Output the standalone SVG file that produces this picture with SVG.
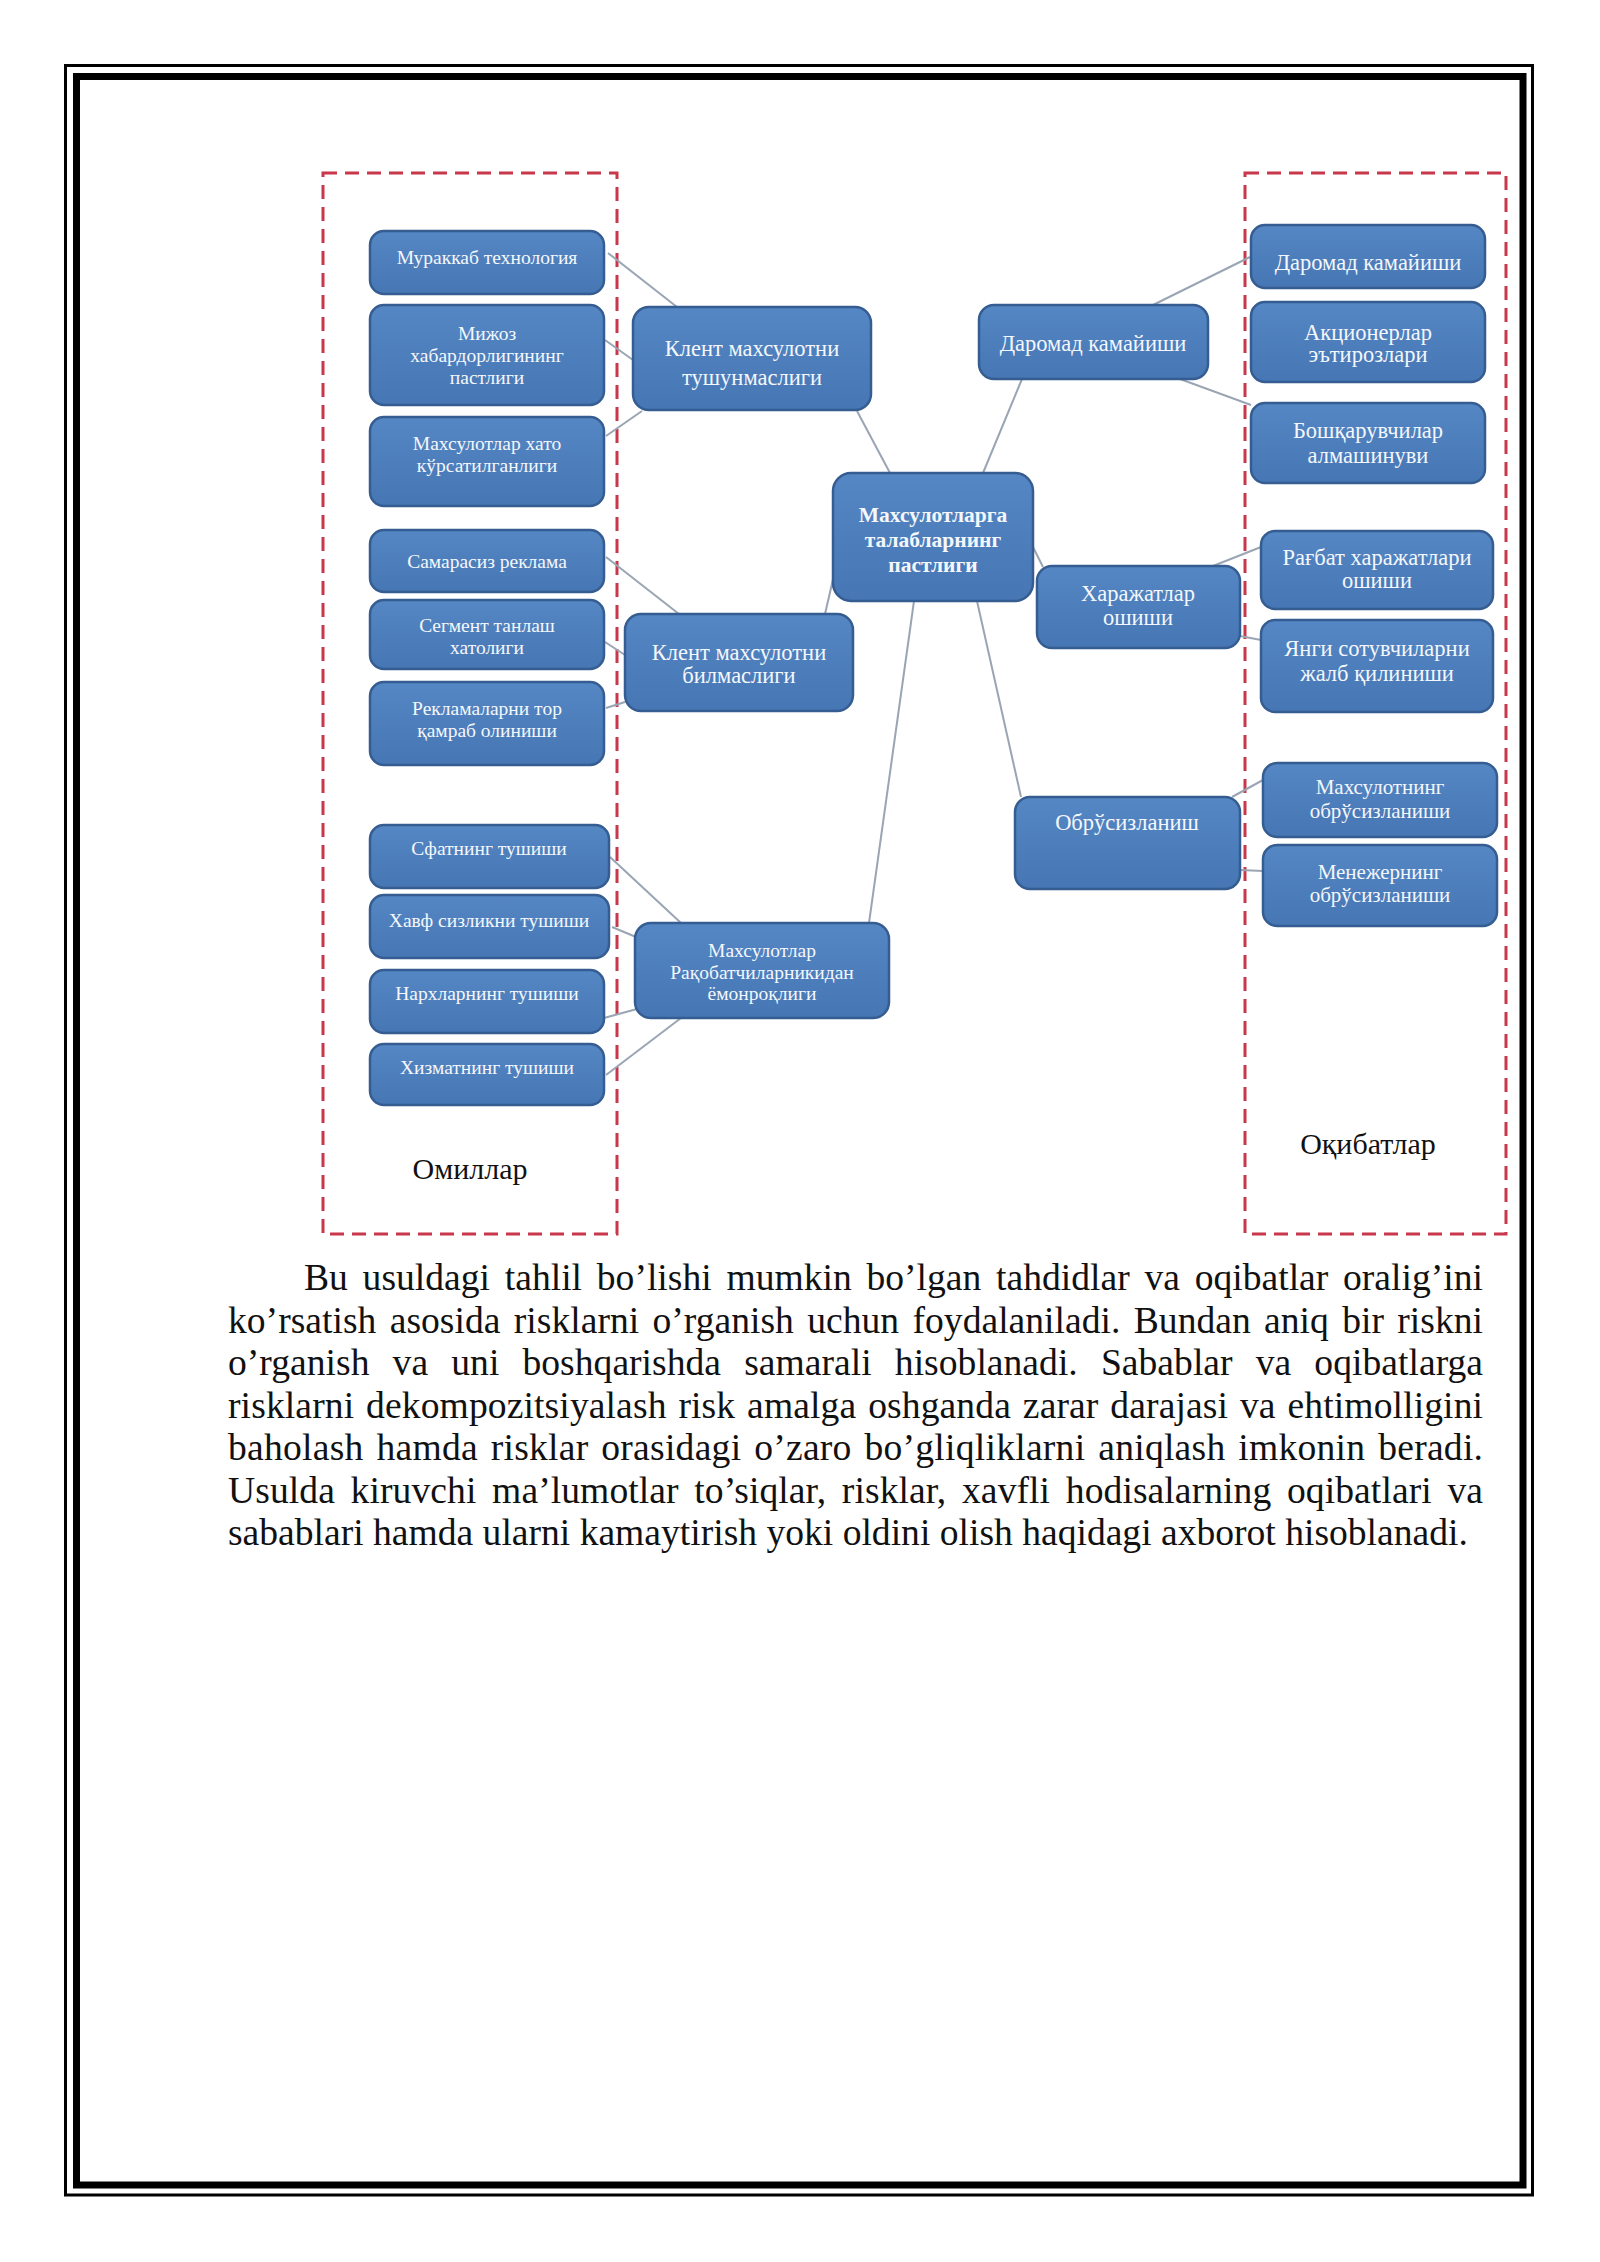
<svg xmlns="http://www.w3.org/2000/svg" width="1600" height="2262" viewBox="0 0 1600 2262">
<defs>
<linearGradient id="nodeFill" x1="0" y1="0" x2="0" y2="1">
<stop offset="0" stop-color="#5587c4"/>
<stop offset="1" stop-color="#4676b4"/>
</linearGradient>
<style>
.node rect{fill:url(#nodeFill);stroke:#355d91;stroke-width:2.5}
.nt{font-family:"Liberation Serif","Times New Roman",serif;fill:#f4f7fb;text-anchor:middle}
.s19{font-size:19.5px}
.s21{font-size:21px}
.s22{font-size:22.5px}
.bold{font-weight:bold;font-size:21.5px}
.conn line{stroke:#9aa5b4;stroke-width:2}
.zone{fill:none;stroke:#c8374a;stroke-width:3;stroke-dasharray:14 8}
.lbl{font-family:"Liberation Serif","Times New Roman",serif;font-size:30px;fill:#111;text-anchor:middle}
.para{font-family:"Liberation Serif","Times New Roman",serif;font-size:37.6px;fill:#111}
</style>
</defs>
<rect x="0" y="0" width="1600" height="2262" fill="#ffffff"/>
<g id="frame" fill="none" stroke="#000">
<rect x="65.5" y="65.5" width="1467" height="2129.5" stroke-width="3"/>
<rect x="76.5" y="76.5" width="1446.5" height="2108.5" stroke-width="7"/>
</g>
<g id="zones">
<rect class="zone" x="323" y="173" width="294" height="1061"/>
<rect class="zone" x="1245" y="173" width="261" height="1061"/>
<text class="lbl" x="470" y="1179">Омиллар</text>
<text class="lbl" x="1368" y="1154">Оқибатлар</text>
</g>
<g id="connectors" class="conn">
<line x1="608" y1="253" x2="677" y2="307"/>
<line x1="605" y1="340" x2="633" y2="360"/>
<line x1="606" y1="436" x2="642" y2="411"/>
<line x1="857" y1="411" x2="890" y2="473"/>
<line x1="983" y1="473" x2="1022" y2="379"/>
<line x1="1153" y1="305" x2="1250" y2="257"/>
<line x1="1180" y1="379" x2="1251" y2="405"/>
<line x1="1033" y1="547" x2="1043" y2="567"/>
<line x1="1213" y1="566" x2="1261" y2="547"/>
<line x1="1240" y1="636" x2="1261" y2="640"/>
<line x1="977" y1="601" x2="1021" y2="797"/>
<line x1="1232" y1="797" x2="1263" y2="780"/>
<line x1="1240" y1="870" x2="1263" y2="871"/>
<line x1="825" y1="614" x2="834" y2="575"/>
<line x1="606" y1="557" x2="679" y2="614"/>
<line x1="605" y1="642" x2="625" y2="655"/>
<line x1="606" y1="708" x2="625" y2="702"/>
<line x1="914" y1="601" x2="869" y2="923"/>
<line x1="610" y1="857" x2="681" y2="923"/>
<line x1="612" y1="927" x2="636" y2="937"/>
<line x1="604" y1="1018" x2="637" y2="1009"/>
<line x1="606" y1="1075" x2="681" y2="1018"/>
</g>
<g id="n-murakkab" class="node"><rect x="370" y="231" width="234" height="63" rx="14"/><text class="nt s19" x="487" y="264">Мураккаб технология</text></g>
<g id="n-mijoz" class="node"><rect x="370" y="305" width="234" height="100" rx="14"/><text class="nt s19" x="487"><tspan x="487" y="340">Мижоз</tspan><tspan x="487" y="362">хабардорлигининг</tspan><tspan x="487" y="384">пастлиги</tspan></text></g>
<g id="n-xato" class="node"><rect x="370" y="417" width="234" height="89" rx="14"/><text class="nt s19"><tspan x="487" y="450">Махсулотлар хато</tspan><tspan x="487" y="472">кўрсатилганлиги</tspan></text></g>
<g id="n-samarasiz" class="node"><rect x="370" y="530" width="234" height="62" rx="14"/><text class="nt s19" x="487" y="568">Самарасиз реклама</text></g>
<g id="n-segment" class="node"><rect x="370" y="600" width="234" height="69" rx="14"/><text class="nt s19"><tspan x="487" y="632">Сегмент танлаш</tspan><tspan x="487" y="654">хатолиги</tspan></text></g>
<g id="n-reklama" class="node"><rect x="370" y="682" width="234" height="83" rx="14"/><text class="nt s19"><tspan x="487" y="715">Рекламаларни тор</tspan><tspan x="487" y="737">қамраб олиниши</tspan></text></g>
<g id="n-sifat" class="node"><rect x="370" y="825" width="239" height="63" rx="14"/><text class="nt s19" x="489" y="855">Сфатнинг тушиши</text></g>
<g id="n-xavf" class="node"><rect x="370" y="895" width="239" height="63" rx="14"/><text class="nt s19" x="489" y="927">Хавф сизликни тушиши</text></g>
<g id="n-narx" class="node"><rect x="370" y="970" width="234" height="63" rx="14"/><text class="nt s19" x="487" y="1000">Нархларнинг тушиши</text></g>
<g id="n-xizmat" class="node"><rect x="370" y="1044" width="234" height="61" rx="14"/><text class="nt s19" x="487" y="1074">Хизматнинг тушиши</text></g>
<g id="n-tushun" class="node"><rect x="633" y="307" width="238" height="103" rx="16"/><text class="nt s22"><tspan x="752" y="356">Клент махсулотни</tspan><tspan x="752" y="385">тушунмаслиги</tspan></text></g>
<g id="n-bilmas" class="node"><rect x="625" y="614" width="228" height="97" rx="16"/><text class="nt s22"><tspan x="739" y="660">Клент махсулотни</tspan><tspan x="739" y="683">билмаслиги</tspan></text></g>
<g id="n-raqobat" class="node"><rect x="635" y="923" width="254" height="95" rx="16"/><text class="nt s19"><tspan x="762" y="957">Махсулотлар</tspan><tspan x="762" y="979">Рақобатчиларникидан</tspan><tspan x="762" y="1000">ёмонроқлиги</tspan></text></g>
<g id="n-center" class="node"><rect x="833" y="473" width="200" height="128" rx="18"/><text class="nt bold"><tspan x="933" y="522">Махсулотларга</tspan><tspan x="933" y="547">талабларнинг</tspan><tspan x="933" y="572">пастлиги</tspan></text></g>
<g id="n-daromad-mid" class="node"><rect x="979" y="305" width="229" height="74" rx="15"/><text class="nt s22" x="1093" y="351">Даромад камайиши</text></g>
<g id="n-daromad-r" class="node"><rect x="1251" y="225" width="234" height="63" rx="14"/><text class="nt s22" x="1368" y="270">Даромад камайиши</text></g>
<g id="n-aksioner" class="node"><rect x="1251" y="302" width="234" height="80" rx="14"/><text class="nt s22"><tspan x="1368" y="340">Акционерлар</tspan><tspan x="1368" y="362">эътирозлари</tspan></text></g>
<g id="n-boshqaruv" class="node"><rect x="1251" y="403" width="234" height="80" rx="14"/><text class="nt s22"><tspan x="1368" y="438">Бошқарувчилар</tspan><tspan x="1368" y="463">алмашинуви</tspan></text></g>
<g id="n-xarajat" class="node"><rect x="1037" y="566" width="203" height="82" rx="15"/><text class="nt s22"><tspan x="1138" y="601">Харажатлар</tspan><tspan x="1138" y="625">ошиши</tspan></text></g>
<g id="n-ragbat" class="node"><rect x="1261" y="531" width="232" height="78" rx="14"/><text class="nt s22"><tspan x="1377" y="565">Рағбат харажатлари</tspan><tspan x="1377" y="588">ошиши</tspan></text></g>
<g id="n-yangi" class="node"><rect x="1261" y="620" width="232" height="92" rx="14"/><text class="nt s22"><tspan x="1377" y="656">Янги сотувчиларни</tspan><tspan x="1377" y="681">жалб қилиниши</tspan></text></g>
<g id="n-obru" class="node"><rect x="1015" y="797" width="225" height="92" rx="15"/><text class="nt s22" x="1127" y="830">Обрўсизланиш</text></g>
<g id="n-obru-mahsulot" class="node"><rect x="1263" y="763" width="234" height="74" rx="14"/><text class="nt s21"><tspan x="1380" y="794">Махсулотнинг</tspan><tspan x="1380" y="818">обрўсизланиши</tspan></text></g>
<g id="n-obru-menejer" class="node"><rect x="1263" y="845" width="234" height="81" rx="14"/><text class="nt s21"><tspan x="1380" y="879">Менежернинг</tspan><tspan x="1380" y="902">обрўсизланиши</tspan></text></g>
<g id="paragraph" class="para">
<text x="304" y="1290" word-spacing="5.3" textLength="1179" lengthAdjust="spacing">Bu usuldagi tahlil bo’lishi mumkin bo’lgan tahdidlar va oqibatlar oralig’ini</text>
<text x="228" y="1332.6" word-spacing="3.9" textLength="1255" lengthAdjust="spacing">ko’rsatish asosida risklarni o’rganish uchun foydalaniladi. Bundan aniq bir riskni</text>
<text x="228" y="1375.1" word-spacing="13.7" textLength="1255" lengthAdjust="spacing">o’rganish va uni boshqarishda samarali hisoblanadi. Sabablar va oqibatlarga</text>
<text x="228" y="1417.7" word-spacing="2.4" textLength="1255" lengthAdjust="spacing">risklarni dekompozitsiyalash risk amalga oshganda zarar darajasi va ehtimolligini</text>
<text x="228" y="1460.2" word-spacing="3.2" textLength="1255" lengthAdjust="spacing">baholash hamda risklar orasidagi o’zaro bo’gliqliklarni aniqlash imkonin beradi.</text>
<text x="228" y="1502.8" word-spacing="6.2" textLength="1255" lengthAdjust="spacing">Usulda kiruvchi ma’lumotlar to’siqlar, risklar, xavfli hodisalarning oqibatlari va</text>
<text x="228" y="1545.3">sabablari hamda ularni kamaytirish yoki oldini olish haqidagi axborot hisoblanadi.</text>
</g>
</svg>
